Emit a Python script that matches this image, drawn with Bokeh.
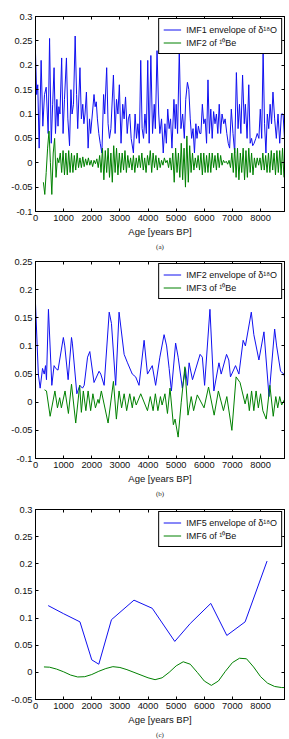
import numpy as np
from bokeh.plotting import figure
from bokeh.models import (Range1d, FixedTicker, CustomJSTickFormatter, LinearAxis,
                          Legend, LegendItem, Title)
from bokeh.layouts import column
from bokeh.embed import file_html
from bokeh.resources import INLINE

FONT = "Liberation Sans"
BLUE = "#1010f0"
GREEN = "#008000"

x_ticks = [0, 1000, 2000, 3000, 4000, 5000, 6000, 7000, 8000]

# ---------------- panel (a) ----------------
a_yticks = [-0.1, -0.05, 0, 0.05, 0.1, 0.15, 0.2, 0.25, 0.3]
a_blue_age = [0, 40, 80, 130, 200, 260, 320, 380, 420, 450, 500, 560, 610, 660, 710, 760, 800, 830, 870, 930, 980,
              1030, 1100, 1150, 1210, 1260, 1300, 1350, 1410, 1460, 1500, 1580, 1630, 1680, 1720, 1760, 1810, 1870, 1920, 1960,
              2020, 2080, 2120, 2160, 2200, 2250, 2300, 2360, 2420, 2460, 2530, 2580, 2630, 2680, 2770, 2830, 2880, 2930, 2980,
              3040, 3100, 3150, 3200, 3260, 3300, 3350, 3400, 3480, 3540, 3590, 3640, 3690, 3740, 3790, 3840, 3890, 3940, 3990,
              4040, 4100, 4160, 4220, 4260, 4320, 4380, 4420, 4480, 4540, 4600, 4650, 4700, 4750, 4800, 4850, 4920, 4970,
              5000, 5050, 5110, 5170, 5230, 5290, 5340, 5400, 5450, 5500, 5550, 5600, 5650, 5700, 5740, 5790, 5840, 5880, 5930, 5980,
              6030, 6080, 6130, 6180, 6230, 6280, 6330, 6380, 6430, 6480, 6530, 6580, 6630, 6690, 6740, 6800, 6850, 6900, 6960,
              7020, 7080, 7140, 7200, 7250, 7300, 7360, 7420, 7460, 7520, 7580, 7630, 7680, 7720, 7770, 7830, 7880, 7940, 7990,
              8040, 8090, 8140, 8190, 8240, 8290, 8340, 8390, 8440, 8500, 8560, 8620, 8680, 8740, 8800, 8850]
a_blue_val = [0.225, 0.14, 0.16, 0.03, 0.21, 0.075, 0.14, 0.155, 0.10, 0.06, 0.255, 0.04, 0.12, 0.195, 0.06, 0.13, 0.075, 0.115, 0.10, 0.215, 0.06,
              0.13, 0.215, 0.09, 0.035, 0.15, 0.10, 0.12, 0.26, 0.14, 0.07, 0.195, 0.09, 0.12, 0.08, 0.10, 0.145, 0.03, 0.09, 0.06,
              0.10, 0.14, 0.115, 0.125, 0.09, 0.06, 0.04, 0.02, 0.14, 0.10, 0.195, 0.08, 0.05, 0.07, 0.18, 0.06, 0.13, 0.10, 0.16,
              0.04, 0.12, 0.09, 0.135, 0.06, 0.09, 0.10, 0.05, 0.02, 0.10, 0.05, 0.08, 0.04, 0.21, 0.07, 0.05, 0.10, 0.06, 0.21,
              0.04, 0.22, 0.06, 0.12, 0.07, 0.23, 0.10, 0.06, 0.09, 0.02, 0.08, 0.04, 0.11, 0.07, 0.09, 0.03, 0.13, 0.07,
              0.12, 0.06, 0.23, 0.07, 0.10, 0.05, 0.13, 0.165, 0.15, 0.09, 0.05, 0.07, 0.02, 0.08, 0.05, 0.075, 0.06, 0.06, 0.12, 0.08,
              0.09, 0.04, 0.17, 0.06, 0.11, 0.05, 0.105, 0.08, 0.10, 0.06, 0.12, 0.06, 0.10, 0.08, 0.09, 0.06, 0.04, 0.03, 0.11,
              0.06, 0.02, 0.185, 0.07, 0.12, 0.06, 0.18, 0.08, 0.12, 0.05, 0.16, 0.04, 0.05, 0.035, 0.04, 0.05, 0.06, 0.05, 0.11,
              0.05, 0.23, 0.08, 0.02, 0.10, 0.07, 0.12, 0.08, 0.145, 0.09, 0.05, 0.10, 0.04, 0.10, 0.10, 0.05]
a_green_val = [-0.04, -0.065, -0.02, 0.03, 0.065, 0.0, -0.065, 0.02, 0.05, -0.03, 0.01, 0.0,
               0.02, -0.02, 0.025, -0.025, 0.02, -0.025, 0.025, -0.02, 0.02, -0.02, 0.015, -0.015, 0.02, -0.01,
               0.01, -0.01, 0.012, -0.008, 0.008, -0.005, 0.01, -0.005, 0.005, -0.008, 0.005, -0.002, 0.008, -0.01,
               0.015, -0.02, 0.03, -0.035, 0.025, -0.02, 0.03, -0.03, 0.02, -0.04, 0.035, -0.02, 0.03, -0.025, 0.02, -0.02, 0.02, -0.015, 0.025, -0.02,
               0.015, -0.01, 0.01, -0.015, 0.015, -0.02, 0.01, -0.01, 0.015, -0.01, 0.02, -0.015, 0.01, -0.02, 0.015, -0.005, 0.025, -0.02, 0.02, -0.01,
               0.015, -0.015, 0.01, -0.01, 0.005, -0.005, 0.01, 0.0, 0.005, -0.01, 0.01, -0.015, 0.02, -0.04, 0.03, -0.02, 0.02, -0.03, 0.04, -0.035,
               0.03, -0.05, 0.055, -0.04, 0.035, -0.02, 0.02, -0.015, 0.01, -0.01, 0.015, -0.015, 0.02, -0.025, 0.02, -0.02, 0.015, -0.02, 0.02, -0.02,
               0.02, -0.01, 0.015, -0.015, 0.02, -0.01, 0.015, -0.005, 0.005, 0.0, 0.003, -0.003, 0.005, -0.01, 0.02, -0.02, 0.03, -0.03, 0.03, -0.035,
               0.02, -0.02, 0.03, -0.035, 0.025, -0.03, 0.03, -0.02, 0.02, -0.025, 0.01, -0.01, 0.01, -0.005, 0.01, -0.015, 0.02, -0.015, 0.015, -0.02,
               0.02, -0.02, 0.025, -0.015, 0.02, -0.025, 0.025, -0.02, 0.025, -0.025, 0.03, -0.03]
a_green_age = list(np.arange(280, 280 + 50 * len(a_green_val), 50))

# ---------------- panel (b) ----------------
b_yticks = [-0.1, -0.05, 0, 0.05, 0.1, 0.15, 0.2, 0.25]
b_blue_age = [0, 100, 165, 250, 310, 355, 390, 460, 580, 660, 720, 800, 990, 1040, 1160, 1280, 1310, 1470, 1575, 1670, 1730,
              1850, 1930, 2080, 2260, 2320, 2440, 2620, 2700, 2850, 2970, 3150, 3270, 3440, 3560, 3680, 3860, 3980, 4150,
              4270, 4420, 4570, 4660, 4750, 4830, 4980, 5070, 5220, 5330, 5400, 5460, 5580, 5850, 5930, 6010, 6200, 6340,
              6520, 6600, 6790, 6870, 6930, 7110, 7230, 7380, 7460, 7670, 7760, 7940, 8120, 8300, 8500, 8570, 8710, 8830, 8850]
b_blue_val = [0.175, 0.05, 0.025, 0.06, 0.05, 0.065, 0.04, 0.165, 0.03, 0.065, 0.06, 0.057, 0.115, 0.10, 0.04, 0.115, 0.105, 0.015, 0.03, 0.025, 0.03,
              0.08, 0.09, 0.035, 0.055, 0.05, 0.03, 0.16, 0.14, 0.03, 0.16, 0.085, 0.07, 0.05, 0.045, 0.03, 0.11, 0.05, 0.065,
              0.03, 0.08, 0.12, 0.10, 0.06, 0.02, 0.105, 0.08, 0.025, 0.06, 0.03, 0.07, 0.04, 0.085, 0.08, 0.03, 0.165, 0.02,
              0.07, 0.05, 0.085, 0.075, 0.045, 0.065, 0.05, 0.11, 0.10, 0.16, 0.12, 0.075, 0.125, 0.01, 0.13, 0.10, 0.055, 0.05, 0.045]
b_green_age = [320, 390, 520, 690, 780, 860, 920, 1050, 1170, 1280, 1430, 1570, 1630, 1700, 1790, 1870, 1960, 2040, 2130, 2220, 2260,
               2340, 2580, 2770, 2875, 2970, 3060, 3150, 3240, 3350, 3440, 3500, 3580, 3740, 3980, 4080, 4180, 4260, 4350, 4440,
               4500, 4600, 4690, 4780, 4900, 4960, 5070, 5180, 5310, 5420, 5535, 5620, 5750, 5990, 6150, 6350, 6500, 6680, 6800,
               6980, 7130, 7270, 7450, 7530, 7600, 7680, 7760, 7840, 7920, 8000, 8080, 8200, 8330, 8450, 8540, 8610, 8680, 8750, 8850]
b_green_val = [0.022, 0.02, -0.025, 0.02, -0.01, 0.008, -0.01, 0.02, -0.02, 0.032, -0.037, 0.03, -0.018, 0.02, -0.015, 0.02, -0.015, 0.015, -0.01, 0.005, -0.002,
               0.02, -0.037, 0.037, -0.03, 0.02, -0.01, 0.015, -0.015, 0.015, -0.01, 0.01, -0.005, 0.015, -0.015, 0.01, -0.015, 0.015, -0.015, 0.01,
               -0.005, 0.015, -0.02, 0.025, -0.04, -0.03, -0.062, 0.0, 0.063, -0.023, 0.01, -0.015, 0.013, -0.01, 0.027, -0.023, 0.02, -0.015, 0.01,
               -0.05, 0.045, 0.035, -0.003, 0.015, -0.015, 0.02, -0.015, 0.02, -0.01, 0.015, -0.015, -0.03, 0.03, -0.025, 0.01, -0.01, 0.01, -0.005, 0.005]

# ---------------- panel (c) ----------------
c_yticks = [-0.05, 0, 0.05, 0.1, 0.15, 0.2, 0.25, 0.3]
c_blue_age = [450, 1000, 1580, 2000, 2250, 2700, 3500, 4150, 4950, 5500, 6230, 6800, 7450, 8230]
c_blue_val = [0.123, 0.108, 0.093, 0.023, 0.015, 0.097, 0.133, 0.118, 0.057, 0.09, 0.127, 0.068, 0.093, 0.205]
c_green_age = [300, 500, 750, 1000, 1250, 1500, 1750, 2000, 2250, 2500, 2750, 3000, 3250, 3500, 3750, 4000, 4250, 4500,
               4750, 5000, 5250, 5500, 5750, 6000, 6250, 6500, 6750, 7000, 7250, 7500, 7750, 8000, 8250, 8500, 8750, 8850]
c_green_val = [0.010, 0.0095, 0.006, 0.001, -0.005, -0.0085, -0.008, -0.004, 0.002, 0.007, 0.0105, 0.009, 0.005, 0.0, -0.005,
               -0.010, -0.0135, -0.010, 0.000, 0.012, 0.0195, 0.015, 0.000, -0.016, -0.024, -0.016, 0.002, 0.018, 0.026, 0.025,
               0.010, -0.008, -0.020, -0.026, -0.028, -0.028]

labels = [("IMF1 envelope of \u03b4\u00b9\u2078O", "IMF2 of \u00b9\u2070Be"),
          ("IMF2 envelope of \u03b4\u00b9\u2078O", "IMF3 of \u00b9\u2070Be"),
          ("IMF5 envelope of \u03b4\u00b9\u2078O", "IMF6 of \u00b9\u2070Be")]
captions = ["(a)", "(b)", "(c)"]

YFMT = "return Number(tick.toFixed(2)).toString();"


def style_axis(ax, show_labels):
    ax.major_tick_in = 3
    ax.major_tick_out = 0
    ax.minor_tick_line_color = None
    ax.axis_line_color = "black"
    ax.major_tick_line_color = "black"
    ax.major_label_text_font = FONT
    ax.major_label_text_color = "#111111"
    if show_labels:
        ax.major_label_text_font_size = "9.3px"
    else:
        ax.major_label_text_font_size = "0px"
        ax.major_label_text_color = None
        ax.major_label_standoff = 0


def make_panel(yr, yticks, bx, by, gx, gy, lab, cap, height, top, bottom):
    p = figure(width=289, height=height, x_range=Range1d(0, 8850), y_range=Range1d(*yr),
               output_backend="svg", toolbar_location=None,
               min_border_left=35, min_border_right=5, min_border_top=top, min_border_bottom=bottom)
    p.grid.visible = False
    p.outline_line_color = "black"
    p.outline_line_alpha = 1.0
    p.background_fill_color = "white"
    p.border_fill_color = "white"

    p.xaxis.ticker = FixedTicker(ticks=x_ticks)
    p.yaxis.ticker = FixedTicker(ticks=yticks)
    p.yaxis.formatter = CustomJSTickFormatter(code=YFMT)
    style_axis(p.xaxis[0], True)
    style_axis(p.yaxis[0], True)
    p.xaxis.major_label_standoff = 3
    p.yaxis.major_label_standoff = 3
    p.xaxis.axis_label = "Age [years BP]"
    p.xaxis.axis_label_text_font = FONT
    p.xaxis.axis_label_text_font_size = "9.5px"
    p.xaxis.axis_label_text_font_style = "normal"
    p.xaxis.axis_label_text_color = "#111111"
    p.xaxis.axis_label_standoff = 2

    top_ax = LinearAxis(ticker=FixedTicker(ticks=x_ticks))
    style_axis(top_ax, False)
    p.add_layout(top_ax, "above")
    right_ax = LinearAxis(ticker=FixedTicker(ticks=yticks))
    style_axis(right_ax, False)
    p.add_layout(right_ax, "right")

    r1 = p.line(bx, by, color=BLUE, line_width=1)
    r2 = p.line(gx, gy, color=GREEN, line_width=1)

    leg = Legend(items=[LegendItem(label=lab[0], renderers=[r1]),
                        LegendItem(label=lab[1], renderers=[r2])],
                 location="top_right")
    leg.margin = 2
    leg.padding = 4
    leg.spacing = 0
    leg.glyph_width = 18
    leg.glyph_height = 13
    leg.label_height = 13
    leg.label_standoff = 5
    leg.label_text_font = FONT
    leg.label_text_font_size = "9px"
    leg.label_text_color = "#111111"
    leg.border_line_color = "black"
    leg.border_line_width = 1
    leg.border_line_alpha = 1.0
    leg.background_fill_alpha = 1.0
    p.add_layout(leg)

    t = Title(text=cap, align="center", text_font="Liberation Serif", text_font_size="7px",
              text_font_style="normal", text_color="#222222", standoff=2)
    p.add_layout(t, "below")
    return p


pa = make_panel((-0.1, 0.3), a_yticks, a_blue_age, a_blue_val, a_green_age, a_green_val,
                labels[0], captions[0], 255, 16, 44)
pb = make_panel((-0.1, 0.25), b_yticks, b_blue_age, b_blue_val, b_green_age, b_green_val,
                labels[1], captions[1], 245, 6, 42)
pc = make_panel((-0.05, 0.3), c_yticks, c_blue_age, c_blue_val, c_green_age, c_green_val,
                labels[2], captions[2], 239, 9, 36)

layout = column(pa, pb, pc, spacing=0)
open("out.html", "w").write(file_html(layout, INLINE))
